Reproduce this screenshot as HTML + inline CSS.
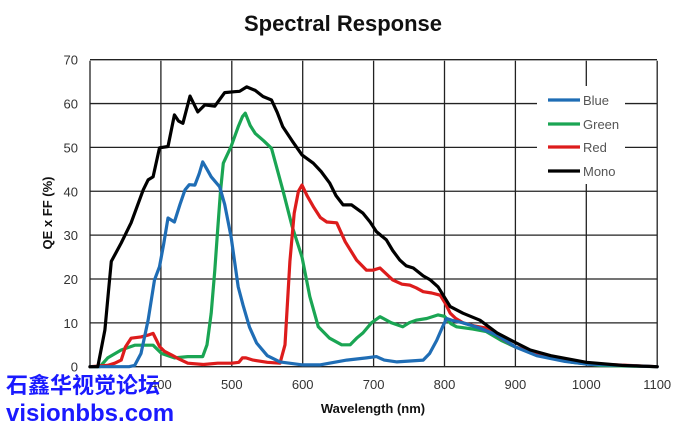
<!DOCTYPE html>
<html><head><meta charset="utf-8"><style>
body{margin:0;background:#fff;width:690px;height:428px;overflow:hidden;font-family:"Liberation Sans",sans-serif}
</style></head><body>
<svg id="s" width="690" height="428" xmlns="http://www.w3.org/2000/svg" font-family="Liberation Sans, sans-serif">
<text x="343" y="31" text-anchor="middle" font-size="22" font-weight="bold" fill="#111">Spectral Response</text>
<g id="grid"></g>
<g id="lines" fill="none" stroke-width="3.2" stroke-linejoin="round" stroke-linecap="round"></g>
<rect x="537" y="86" width="88" height="98" fill="#fff"/>
<g font-size="13" fill="#555">
<line x1="548" y1="100" x2="580" y2="100" stroke="#1f6db5" stroke-width="3.2"/><text x="583" y="105">Blue</text>
<line x1="548" y1="124" x2="580" y2="124" stroke="#1aa553" stroke-width="3.2"/><text x="583" y="129">Green</text>
<line x1="548" y1="147" x2="580" y2="147" stroke="#dd1c1c" stroke-width="3.2"/><text x="583" y="152">Red</text>
<line x1="548" y1="171" x2="580" y2="171" stroke="#000" stroke-width="3.2"/><text x="583" y="176">Mono</text>
</g>
<text x="373" y="413" text-anchor="middle" font-size="13" font-weight="bold" fill="#111">Wavelength (nm)</text>
<text transform="translate(52,213) rotate(-90)" text-anchor="middle" font-size="13" font-weight="bold" fill="#111">QE x FF (%)</text>
<text x="6" y="393" font-size="22" font-weight="bold" fill="#1a1aff" font-family="Liberation Sans, Noto Sans CJK SC, sans-serif">石鑫华视觉论坛</text>
<text x="6" y="421" font-size="24" font-weight="bold" fill="#1a1aff">visionbbs.com</text>
</svg>
<script>
var X=function(n){return 90+(n-300)*0.709},Y=function(v){return 366.7-v*4.386};
var g=document.getElementById('grid'),h='';
for(var v=0;v<=70;v+=10){h+='<line x1="90" x2="657" y1="'+Y(v)+'" y2="'+Y(v)+'" stroke="#222" stroke-width="1.3"/>';
h+='<text x="78" y="'+(Y(v)+5)+'" text-anchor="end" font-size="13" fill="#333">'+v+'</text>';}
for(var n=300;n<=1100;n+=100){h+='<line y1="60.7" y2="366.7" x1="'+X(n)+'" x2="'+X(n)+'" stroke="#222" stroke-width="1.3"/>';
if(n>300)h+='<text x="'+X(n)+'" y="389" text-anchor="middle" font-size="13" fill="#333">'+n+'</text>';}
g.innerHTML=h;
var D={
'#000':[300,0,311,0,321,8.4,326,17,330,24,344,28.2,358,32.8,375,40.3,382,42.6,389,43.3,398,49.9,410,50.2,419,57.4,425,56,431,55.5,441,61.7,452,58.1,462,59.7,476,59.4,490,62.5,504,62.7,511,62.8,521,63.8,533,63,544,61.6,556,60.8,564,58,572,54.7,585,51.5,599,48.3,615,46.4,626,44.5,638,41.9,647,39,657,36.9,669,36.9,685,35,695,33,704,30.8,718,28.9,727,26.5,737,24.3,746,23,756,22.5,770,20.7,780,19.8,791,18.2,808,13.7,826,12.2,850,10.6,874,7.7,900,5.5,921,3.8,950,2.5,1000,1,1050,0.3,1100,0],
'#1f6db5':[300,0,355,0,363,0.3,372,3,382,10.6,391,19.8,398,22.8,404,28,410,33.9,419,33,427,37,434,40.3,440,41.5,448,41.4,454,44,459,46.7,465,45,471,43.3,483,41,490,37,499,29.6,509,18.2,516,14,525,9,535,5.4,550,2.5,568,1.1,600,0.4,624,0.4,662,1.5,690,2,704,2.3,715,1.5,733,1.1,770,1.5,779,3,789,6,797,9,803,11,812,10.5,826,10,850,8.8,874,7.2,900,4.5,930,2.5,970,1.2,1000,0.6,1100,0],
'#1aa553':[300,0,314,0,325,2,344,3.8,363,4.9,389,4.9,401,3,419,2,438,2.3,459,2.3,465,5,471,12.2,476,22,480,31,484,40,488,46.4,499,50.2,509,54.7,515,57,519,57.8,526,55,533,53.2,545,51.5,556,49.8,564,45,572,40.3,585,32,599,25,610,16,622,9.1,638,6.5,655,5,667,5,676,6.5,685,7.7,697,10,709,11.4,725,10,741,9.1,750,10,760,10.6,775,11,791,11.8,800,11.5,809,9.8,817,9.1,840,8.6,859,8,880,6,900,4.5,940,2.3,980,1,1020,0.3,1100,0],
'#dd1c1c':[300,0,325,0.3,335,0.8,344,1.5,350,4.5,358,6.5,372,6.8,382,7.2,389,7.6,394,6,398,4.6,405,3.5,415,2.7,425,1.8,438,0.8,460,0.5,480,0.8,500,0.8,510,1,515,2,520,2,530,1.5,550,1,568,0.8,575,5,582,24,588,35,594,40,599,41.4,606,39,615,36.5,625,34,634,33,648,32.8,660,28.5,676,24.3,690,22,699,22,709,22.5,727,19.8,740,18.8,751,18.6,760,18,770,17.1,782,16.8,794,16.3,801,14.5,808,12.2,816,11,826,10,842,9.3,859,8.8,880,6.5,900,4.5,930,3,960,2,1000,0.7,1100,0]};
var L=document.getElementById('lines'),s='';
['#1aa553','#dd1c1c','#1f6db5','#000'].forEach(function(c){var a=D[c],p=[];for(var i=0;i<a.length;i+=2)p.push(X(a[i]).toFixed(1)+','+Y(a[i+1]).toFixed(1));
s+='<polyline stroke="'+c+'" points="'+p.join(' ')+'"/>';});
L.innerHTML=s;
</script>
</body></html>
